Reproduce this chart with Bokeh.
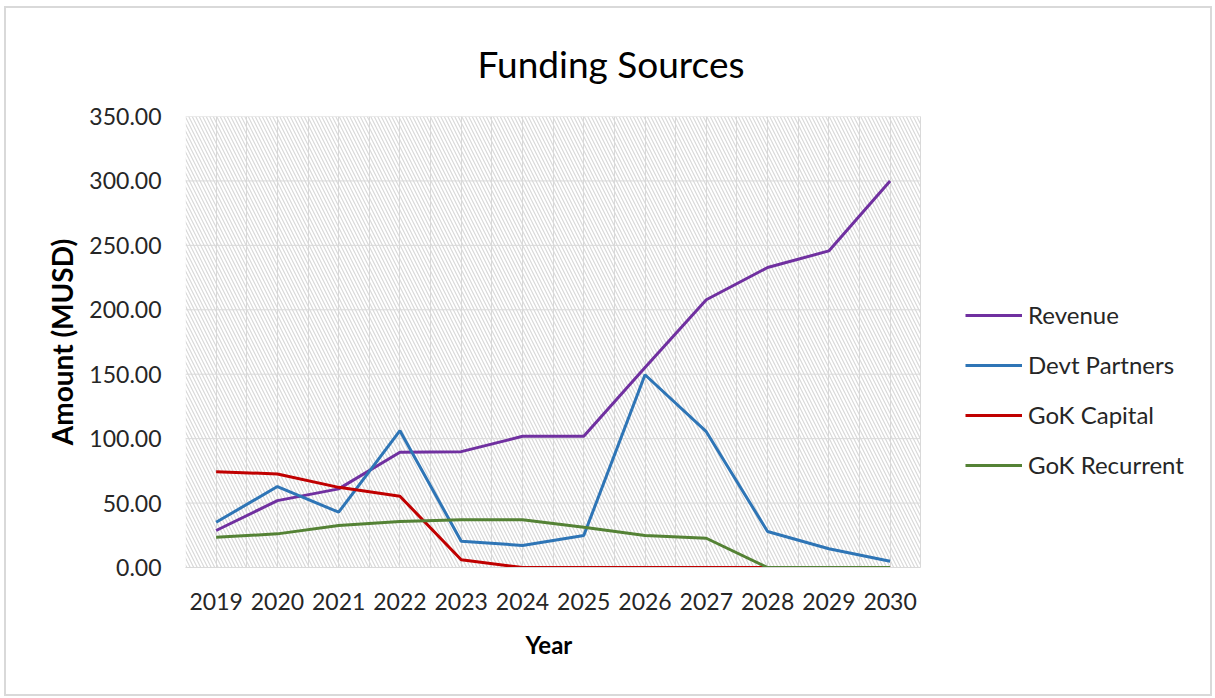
from bokeh.plotting import figure
from bokeh.models import (Range1d, FixedTicker, NumeralTickFormatter, Legend, LegendItem,
                          BoxAnnotation, Grid, ColumnDataSource, Title)
from bokeh.embed import file_html
from bokeh.resources import INLINE

categories = ["2019", "2020", "2021", "2022", "2023", "2024", "2025", "2026", "2027", "2028", "2029", "2030"]
revenue = [28.7, 51.9, 61.0, 89.4, 89.9, 101.8, 101.8, 155.3, 207.8, 232.8, 245.7, 300.0]
devt_partners = [35.1, 62.8, 42.9, 106.2, 20.4, 17.1, 24.8, 149.6, 105.4, 27.9, 14.5, 4.9]
gok_capital = [74.4, 72.6, 62.2, 55.3, 6.0, 0.0, 0.0, 0.0, 0.0, 0.0, 0.0, 0.0]
gok_recurrent = [23.5, 26.1, 32.6, 35.7, 37.0, 37.0, 31.2, 24.8, 22.7, 0.0, 0.0, 0.0]

series_names = ["Revenue", "Devt Partners", "GoK Capital", "GoK Recurrent"]
series_colors = ["#7030A0", "#2E75B6", "#C00000", "#548235"]
y_ticks = [0, 50, 100, 150, 200, 250, 300, 350]

FONT = "Lato"
n = len(categories)
x_idx = list(range(n))
x_lo, x_hi = -0.5, n - 0.5

W, H = 1208, 690
MB_L, MB_R, MB_T, MB_B = 179, 10, 108, 131
PX_PER_CAT = 61.27
frame_w = W - MB_L - MB_R
x_end = x_lo + frame_w / PX_PER_CAT   # extra room on the right holds the legend

p = figure(width=W, height=H, output_backend="svg", toolbar_location=None,
           x_range=Range1d(x_lo, x_end), y_range=Range1d(0, 350),
           min_border_left=MB_L, min_border_right=MB_R, min_border_top=MB_T, min_border_bottom=MB_B)
p.styles = {"border": "2px solid #d9d9d9", "margin": "6px 0px 0px 4px"}
p.outline_line_color = None
p.background_fill_color = "white"
p.border_fill_color = "white"

# hatched plot area
p.add_layout(BoxAnnotation(left=x_lo, right=x_hi, bottom=0, top=350,
                           fill_color="white", fill_alpha=0, line_alpha=0,
                           hatch_pattern="\\", hatch_color="#d9d9d9", hatch_alpha=1.0,
                           hatch_scale=7, hatch_weight=1.2, level="underlay"))

# title
p.title.text = "Funding Sources"
p.title.align = "left"
p.title.offset = 292
p.title.vertical_align = "top"
p.title.text_font = FONT
p.title.text_font_size = "37px"
p.title.text_font_style = "normal"
p.title.text_color = "#000000"
p.title.standoff = 57

# axes
p.xaxis.ticker = FixedTicker(ticks=x_idx)
p.xaxis.major_label_overrides = {i: c for i, c in zip(x_idx, categories)}
p.xaxis.bounds = (x_lo, x_hi)
p.yaxis.ticker = FixedTicker(ticks=y_ticks)
p.yaxis.formatter = NumeralTickFormatter(format="0.00")
for ax in (p.xaxis[0], p.yaxis[0]):
    ax.major_tick_line_color = None
    ax.minor_tick_line_color = None
    ax.major_label_text_font = FONT
    ax.major_label_text_font_size = "23px"
    ax.major_label_text_color = "#262626"
    ax.axis_label_text_font = FONT
    ax.axis_label_text_font_style = "bold"
    ax.axis_label_text_color = "#000000"
p.yaxis.axis_label_text_font_size = "28px"
p.xaxis.axis_line_color = "#d9d9d9"
p.yaxis.axis_line_color = None
p.yaxis.axis_label = "Amount (MUSD)"
p.xaxis.major_label_standoff = 19
p.yaxis.major_label_standoff = 18
p.yaxis.axis_label_standoff = 7

x_title = Title(text="Year", align="left", offset=340, standoff=30,
                text_font=FONT, text_font_size="24px", text_font_style="bold", text_color="#000000")
p.add_layout(x_title, "below")

# grids
p.xgrid.grid_line_color = None
p.ygrid.grid_line_color = None
vgrid = Grid(dimension=0, ticker=FixedTicker(ticks=[x_lo + i * 0.5 for i in range(2 * n + 1)]),
             grid_line_color="#d9d9d9")
p.add_layout(vgrid)
hg = p.segment(x0=[x_lo] * len(y_ticks), x1=[x_hi] * len(y_ticks), y0=y_ticks, y1=y_ticks,
               line_color="#d9d9d9", line_width=1)
hg.level = "underlay"

# lines
items = []
for name, vals, col in zip(series_names, [revenue, devt_partners, gok_capital, gok_recurrent], series_colors):
    src = ColumnDataSource(dict(x=x_idx, y=vals))
    r = p.line("x", "y", source=src, line_color=col, line_width=3)
    items.append(LegendItem(label=name, renderers=[r]))

legend = Legend(items=items, location=(780, 88), orientation="vertical",
                glyph_width=57, glyph_height=20, label_height=20, spacing=21,
                label_standoff=6, padding=0, margin=0,
                label_text_font=FONT, label_text_font_size="24px", label_text_color="#262626",
                border_line_color=None, background_fill_alpha=0)
p.add_layout(legend, "center")

open("out.html", "w").write(file_html(p, INLINE))
